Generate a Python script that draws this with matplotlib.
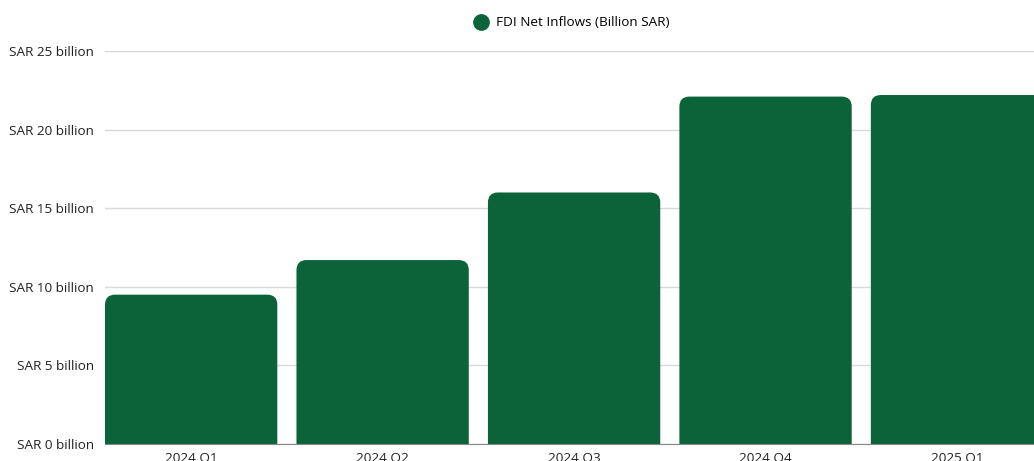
import numpy as np
import matplotlib
matplotlib.use("Agg")
import matplotlib.pyplot as plt
from matplotlib.patches import FancyBboxPatch
from matplotlib.lines import Line2D

# ---------- data ----------
quarters = ["2024 Q1", "2024 Q2", "2024 Q3", "2024 Q4", "2025 Q1"]
fdi_inflows = [9.5, 11.7, 16.0, 22.1, 22.2]   # billion SAR
y_ticks = [0, 5, 10, 15, 20, 25]
y_labels = [f"SAR {v} billion" for v in y_ticks]

GREEN = "#0b6339"
plt.rcParams["font.family"] = ["Open Sans", "DejaVu Sans"]

fig = plt.figure(figsize=(10.34, 4.61), dpi=100)
ax = fig.add_axes([105 / 1034, 1 - 444 / 461, 1 - 105 / 1034, (444 - 51) / 461])

x = np.arange(len(quarters))
width = 0.9
ax.set_xlim(-width / 2, (1034 - 191) / 191.5)
ax.set_ylim(0, 25)

# rounded top corners: radius ~10 px in both directions
rx = 10 / 191.5
ry = 10 / 15.72
for xi, v in zip(x, fdi_inflows):
    p = FancyBboxPatch((xi - width / 2, -ry), width, v + ry,
                       boxstyle=f"round,pad=0,rounding_size={rx}",
                       mutation_aspect=ry / rx,
                       facecolor=GREEN, edgecolor="none", zorder=3)
    ax.add_patch(p)

ax.set_yticks(y_ticks)
ax.set_yticklabels(y_labels)
ax.set_xticks(x)
ax.set_xticklabels(quarters)
ax.grid(axis="y", color="#d9d9d9", linewidth=1, zorder=0)
ax.tick_params(axis="both", length=0, labelsize=9.7, colors="#222222")
ax.tick_params(axis="y", pad=8)
ax.tick_params(axis="x", pad=6)
for s in ["top", "right", "left"]:
    ax.spines[s].set_visible(False)
ax.spines["bottom"].set_color("#888888")
ax.spines["bottom"].set_zorder(4)

handle = Line2D([], [], marker="o", linestyle="none", markersize=11,
                markerfacecolor=GREEN, markeredgecolor=GREEN)
fig.legend([handle], ["FDI Net Inflows (Billion SAR)"], loc="center",
           bbox_to_anchor=(572 / 1034, 1 - 23 / 461), frameon=False,
           fontsize=9.7, handletextpad=0.6, handlelength=1.0)

fig.savefig("out.png", dpi=100)
